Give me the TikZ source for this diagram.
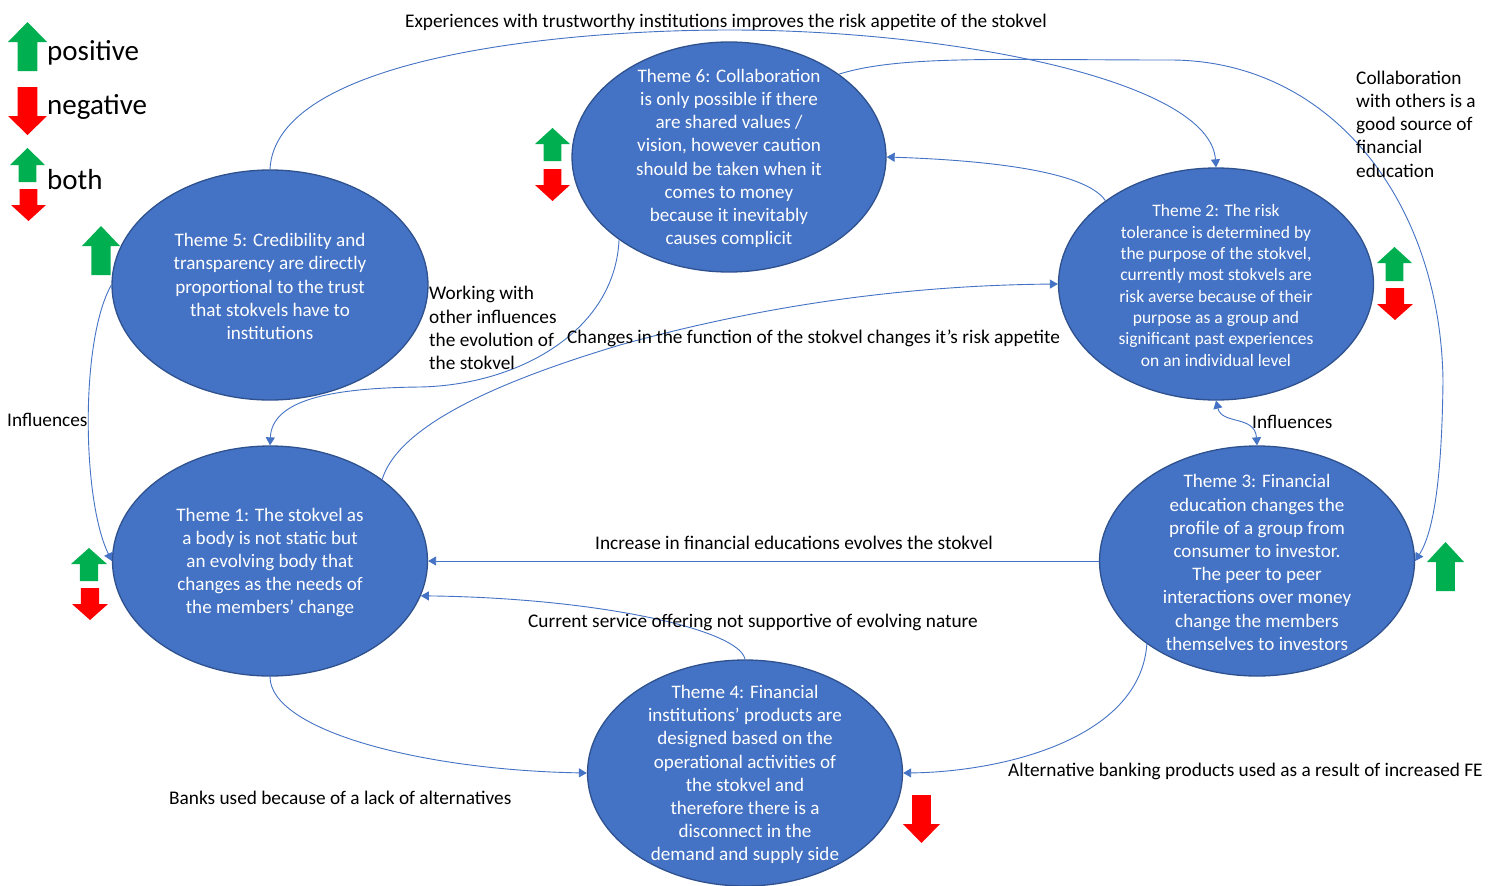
\documentclass[tikz,border=0pt]{standalone}
\usepackage{fontspec}
\setmainfont{Carlito}
\usetikzlibrary{shapes.geometric,arrows.meta}
\definecolor{thfill}{HTML}{4472C4}
\definecolor{thborder}{HTML}{2F528F}
\definecolor{lnblue}{HTML}{4472C4}
\definecolor{posgreen}{HTML}{00B050}
\definecolor{negred}{HTML}{FF0000}
\newcommand{\arrUp}[6]{% left x, top y, width, height, head height, colour
  \pgfmathsetmacro{\bxm}{#1+#3/2}\pgfmathsetmacro{\bxr}{#1+#3}%
  \pgfmathsetmacro{\bsl}{#1+#3*0.245}\pgfmathsetmacro{\bsr}{#1+#3*0.755}%
  \pgfmathsetmacro{\byh}{#2+#5}\pgfmathsetmacro{\byb}{#2+#4}%
  \fill[#6] (\bxm,#2) -- (\bxr,\byh) -- (\bsr,\byh) -- (\bsr,\byb) -- (\bsl,\byb) -- (\bsl,\byh) -- (#1,\byh) -- cycle;}
\newcommand{\arrDown}[6]{% left x, top y, width, height, head height, colour
  \pgfmathsetmacro{\bxm}{#1+#3/2}\pgfmathsetmacro{\bxr}{#1+#3}%
  \pgfmathsetmacro{\bsl}{#1+#3*0.245}\pgfmathsetmacro{\bsr}{#1+#3*0.755}%
  \pgfmathsetmacro{\byh}{#2+#4-#5}\pgfmathsetmacro{\byb}{#2+#4}%
  \fill[#6] (\bsl,#2) -- (\bsr,#2) -- (\bsr,\byh) -- (\bxr,\byh) -- (\bxm,\byb) -- (#1,\byh) -- (\bsl,\byh) -- cycle;}
\begin{document}
\begin{tikzpicture}[x=1pt,y=-1pt,
  themeell/.style={ellipse, draw=thborder, fill=thfill, line width=1.3pt, inner sep=0pt},
  themetxt/.style={text=white, align=center, inner sep=0pt, yshift=-1.5pt, font=\fontsize{19.1}{23.2}\selectfont},
  lbl/.style={inner sep=0pt, yshift=-2pt, font=\fontsize{19.3}{23.2}\selectfont, text=black},
  leg/.style={inner sep=0pt, yshift=-3pt, font=\fontsize{29}{34}\selectfont, text=black},
  conn/.style={draw=lnblue, line width=0.9pt, -{Triangle[width=9pt,length=8pt]}},
  conn2/.style={draw=lnblue, line width=0.9pt, {Triangle[width=9pt,length=8pt]}-{Triangle[width=9pt,length=8pt]}}]
\fill[white] (0,0) rectangle (1499,886);
\useasboundingbox (0,0) rectangle (1499,886);

% ellipses
\node[themeell, minimum width=316pt, minimum height=230pt] (t5) at (270,285) {};
\node[themeell, minimum width=314pt, minimum height=230pt] (t6) at (729,157) {};
\node[themeell, minimum width=315pt, minimum height=232pt] (t2) at (1216,284) {};
\node[themeell, minimum width=315pt, minimum height=230pt] (t1) at (270,561) {};
\node[themeell, minimum width=315pt, minimum height=230pt] (t3) at (1257,561) {};
\node[themeell, minimum width=315pt, minimum height=226pt] (t4) at (745,773) {};

\node[themetxt] (t5txt) at (t5.center) {Theme 5: Credibility and\\transparency are directly\\proportional to the trust\\that stokvels have to\\institutions};
\node[themetxt] (t6txt) at (t6.center) {Theme 6: Collaboration\\is only possible if there\\are shared values /\\vision, however caution\\should be taken when it\\comes to money\\because it inevitably\\causes complicit};
\node[themetxt, font=\fontsize{17.5}{21.3}\selectfont] (t2txt) at (t2.center) {Theme 2: The risk\\tolerance is determined by\\the purpose of the stokvel,\\currently most stokvels are\\risk averse because of their\\purpose as a group and\\significant past experiences\\on an individual level};
\node[themetxt] (t1txt) at (t1.center) {Theme 1: The stokvel as\\a body is not static but\\an evolving body that\\changes as the needs of\\the members’ change};
\node[themetxt] (t3txt) at (t3.center) {Theme 3: Financial\\education changes the\\profile of a group from\\consumer to investor.\\The peer to peer\\interactions over money\\change the members\\themselves to investors};
\node[themetxt] (t4txt) at (t4.center) {Theme 4: Financial\\institutions’ products are\\designed based on the\\operational activities of\\the stokvel and\\therefore there is a\\disconnect in the\\demand and supply side};

% connectors
\draw[conn] (t5.north) .. controls (275,60) and (550,30) .. (730,30) .. controls (950,30) and (1210,80) .. (t2.north);
\draw[conn] (t6.37) .. controls (900,55) and (1000,60) .. (1170,60) .. controls (1330,60) and (1440,200) .. (1443,380) .. controls (1442,470) and (1435,530) .. (t3.east);
\draw[conn] (t2.143) .. controls (1085,170) and (980,160) .. (t6.east);
\draw[conn] (t6.217) .. controls (615,330) and (520,385) .. (420,387) .. controls (330,388) and (272,400) .. (t1.north);
\draw[conn] (t1.36) .. controls (400,420) and (520,375) .. (620,345) .. controls (800,295) and (950,285) .. (t2.west);
\draw[conn] (t5.west) .. controls (80,340) and (82,500) .. (t1.west);
\draw[conn2] (t2.south) .. controls (1222,425) and (1255,415) .. (t3.north);
\draw[conn] (t3.west) -- (t1.east);
\draw[conn] (t4.north) .. controls (740,630) and (600,598) .. (t1.347);
\draw[conn] (t1.south) .. controls (270,730) and (420,770) .. (t4.west);
\draw[conn] (t3.217) .. controls (1140,740) and (1000,772) .. (t4.east);

% labels
\node[lbl, anchor=west] (lexp) at (405,20) {Experiences with trustworthy institutions improves the risk appetite of the stokvel};
\node[lbl, anchor=west, align=left] (lcol) at (1356,122) {Collaboration\\with others is a\\good source of\\financial\\education};
\node[lbl, anchor=west, align=left] (lwork) at (429,326) {Working with\\other influences\\the evolution of\\the stokvel};
\node[lbl, anchor=west] (lchg) at (567,336) {Changes in the function of the stokvel changes it’s risk appetite};
\node[lbl, anchor=west] (linf1) at (7,418) {Influences};
\node[lbl, anchor=west] (linf2) at (1252,420) {Influences};
\node[lbl, anchor=west] (linc) at (595,541) {Increase in financial educations evolves the stokvel};
\node[lbl, anchor=west] (lcur) at (528,620) {Current service offering not supportive of evolving nature};
\node[lbl, anchor=west] (lbank) at (169,796) {Banks used because of a lack of alternatives};
\node[lbl, anchor=west] (lalt) at (1008,769) {Alternative banking products used as a result of increased FE};

% legend
\node[leg, anchor=west] (lpos) at (47,50) {positive};
\node[leg, anchor=west] (lneg) at (47,104) {negative};
\node[leg, anchor=west] (lboth) at (47,177) {both};
\arrUp{8}{22}{39}{49}{20}{posgreen}
\arrDown{8}{87}{39}{48}{19}{negred}
\arrUp{10}{148}{35}{34}{17}{posgreen}
\arrDown{11}{189}{35}{32}{16}{negred}

% theme block arrows
\arrUp{82}{226}{38}{49}{20}{posgreen}
\arrUp{535}{128}{35}{33}{16}{posgreen}
\arrDown{535}{169}{35}{32}{16}{negred}
\arrUp{1377}{247}{35}{34}{16}{posgreen}
\arrDown{1377}{288}{36}{32}{16}{negred}
\arrUp{71}{548}{36}{33}{16}{posgreen}
\arrDown{72}{588}{36}{32}{16}{negred}
\arrUp{1427}{542}{37}{49}{20}{posgreen}
\arrDown{903}{795}{37}{48}{19}{negred}
\end{tikzpicture}
\end{document}
